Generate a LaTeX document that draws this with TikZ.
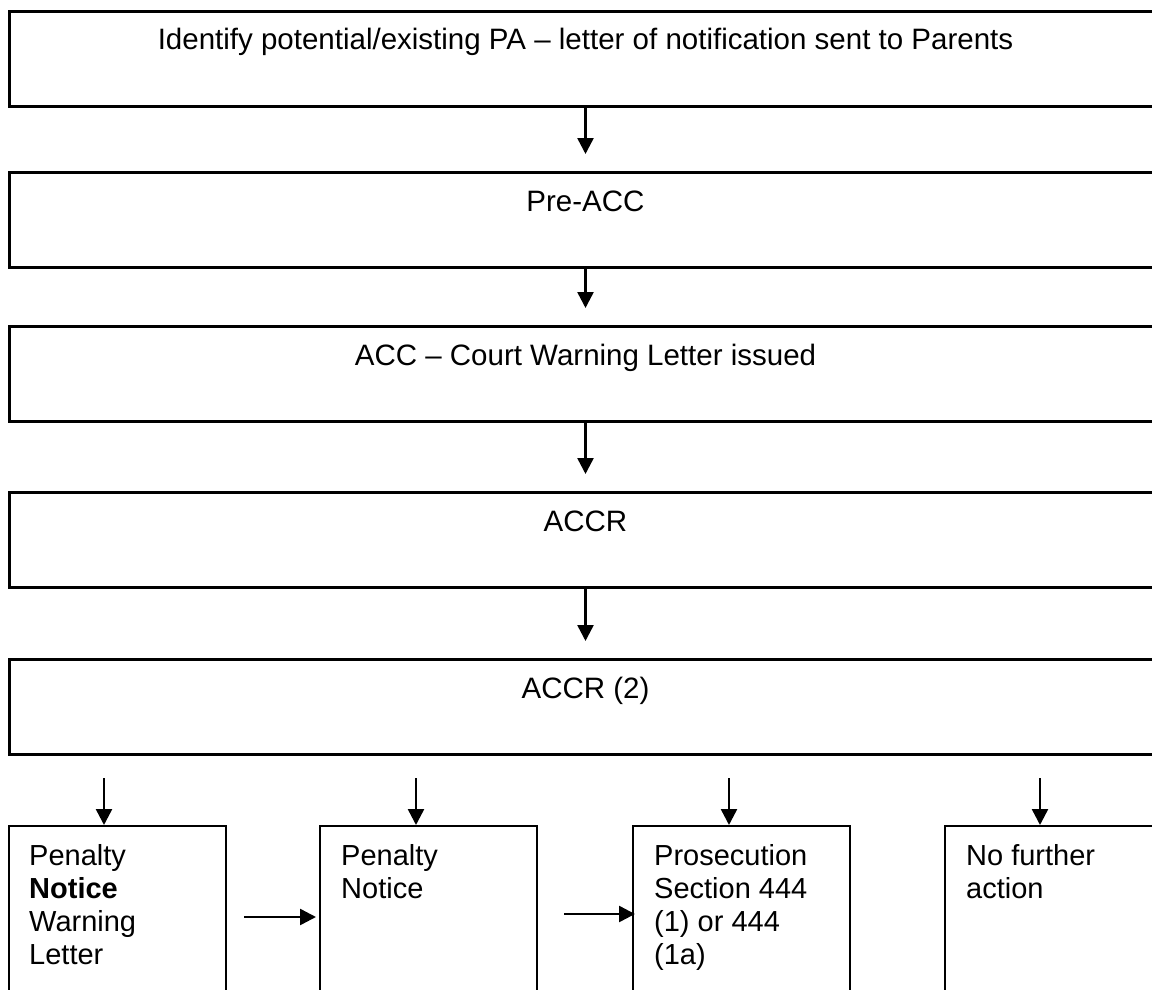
\documentclass[tikz,border=0pt]{standalone}
\usepackage{fontspec}
\setmainfont{Liberation Sans}
\usetikzlibrary{arrows.meta,calc}
\begin{document}
\begin{tikzpicture}[x=1pt,y=-1pt,
  topbox/.style={draw, line width=3pt, minimum width=1152pt, minimum height=95pt, anchor=north west, inner sep=0pt},
  lowbox/.style={draw, line width=2pt, minimum width=217pt, minimum height=220pt, anchor=north west, inner sep=0pt},
  toptext/.style={anchor=base, inner sep=0pt, font=\fontsize{29.5}{33}\selectfont},
  lowtext/.style={anchor=north west, inner sep=0pt, align=left, font=\fontsize{29}{33}\selectfont},
  arr/.style={line width=2.5pt, -{Triangle[width=16pt,length=16pt]}}]
\useasboundingbox (0,0) rectangle (1152,990);
\clip (0,0) rectangle (1152,990);
% main boxes
\node[topbox] (b1) at (8,10) {};
\node[topbox] (b2) at (8,171) {};
\node[topbox] (b3) at (8,325) {};
\node[topbox] (b4) at (8,491) {};
\node[topbox] (b5) at (8,658) {};
\node[toptext] (t1) at ($(b1.north)+(0,40)$) {Identify potential/existing PA – letter of notification sent to Parents};
\node[toptext] (t2) at ($(b2.north)+(0,40)$) {Pre-ACC};
\node[toptext] (t3) at ($(b3.north)+(0,40)$) {ACC – Court Warning Letter issued};
\node[toptext] (t4) at ($(b4.north)+(0,40)$) {ACCR};
\node[toptext] (t5) at ($(b5.north)+(0,40)$) {ACCR (2)};
% arrows between main boxes
\draw[arr] (b1.south) -- ([yshift=17pt]b2.north);
\draw[arr] (b2.south) -- ([yshift=17pt]b3.north);
\draw[arr] (b3.south) -- ([yshift=17pt]b4.north);
\draw[arr] (b4.south) -- ([yshift=17pt]b5.north);
% lower boxes
\node[lowbox] (b6) at (8,825) {};
\node[lowbox] (b7) at (319,825) {};
\node[lowbox] (b8) at (632,825) {};
\node[lowbox] (b9) at (944,825) {};
\node[lowtext] (t6) at ($(b6.north west)+(21,19)$) {Penalty\\\textbf{Notice}\\Warning\\Letter};
\node[lowtext] (t7) at ($(b7.north west)+(22,19)$) {Penalty\\Notice};
\node[lowtext] (t8) at ($(b8.north west)+(22,19)$) {Prosecution\\Section 444\\(1) or 444\\(1a)};
\node[lowtext] (t9) at ($(b9.north west)+(22,19)$) {No further\\action};
% arrows down to lower boxes
\coordinate (a1) at (104,778);
\coordinate (a2) at (416,778);
\coordinate (a3) at (729,778);
\coordinate (a4) at (1040,778);
\draw[arr] (a1) -- (a1 |- b6.north);
\draw[arr] (a2) -- (a2 |- b7.north);
\draw[arr] (a3) -- (a3 |- b8.north);
\draw[arr] (a4) -- (a4 |- b9.north);
% horizontal arrows
\coordinate (h1) at (244,917);
\coordinate (h2) at (564,914);
\draw[arr] (h1) -- ([xshift=-3pt]h1 -| b7.west);
\draw[arr] (h2) -- ([xshift=3pt]h2 -| b8.west);
\end{tikzpicture}
\end{document}
